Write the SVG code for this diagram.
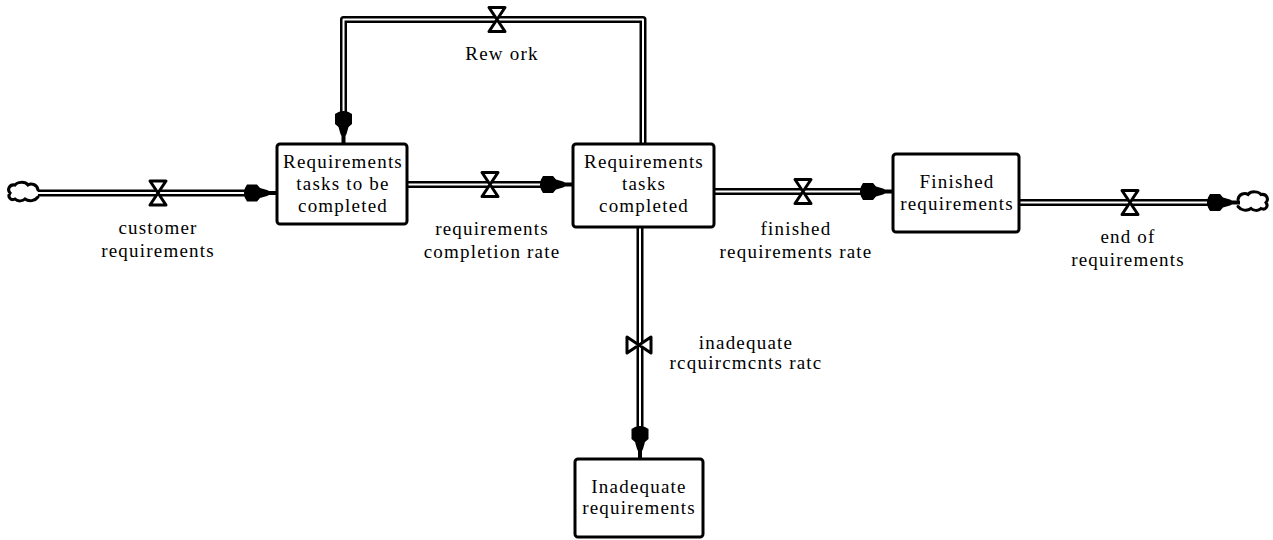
<svg xmlns="http://www.w3.org/2000/svg" width="1273" height="540" viewBox="0 0 1273 540">
<style>
text{font-family:"Liberation Serif","Times New Roman",serif;font-size:19px;letter-spacing:1.2px;fill:#000;text-anchor:middle}
.box{fill:#fff;stroke:#000;stroke-width:3}
.pipeo{fill:none;stroke:#000;stroke-width:7;stroke-linejoin:round}
.pipei{fill:none;stroke:#fff;stroke-width:2;stroke-linejoin:round}
.valve{fill:#fff;stroke:#000;stroke-width:3;stroke-linejoin:round}
.cloud{fill:none;stroke:#000;stroke-width:3;stroke-linecap:round}
</style>
<defs>
<path id="ah" d="M-32,-5 Q-34,0 -32,5 L-30,8.5 L-20,8.5 L-17,5 L-10,3 L-8,2 L0,2 L0,-2 L-8,-2 L-10,-3 L-17,-5 L-20,-8.5 L-30,-8.5 Z" fill="#000"/>
<path id="vl" class="valve" d="M-8,-12 L8,-12 L0,0 Z M-8,12 L8,12 L0,0 Z"/>
<path id="cl" class="cloud" d="M30,-3 C29,-9 23,-10 20,-8 C17,-12 9,-11 7,-8 C1,-9 -1,-3 2,0 C-1,4 3,8 7,6 C10,9 15,8 17,6 C21,9 27,8 30,4"/>
</defs>
<g id="connectors">
<path class="pipeo" d="M38,193 H255"/><path class="pipei" d="M38,193 H255"/>
<path class="pipeo" d="M407,184.5 H548"/><path class="pipei" d="M407,184.5 H548"/>
<path class="pipeo" d="M714,191.5 H868"/><path class="pipei" d="M714,191.5 H868"/>
<path class="pipeo" d="M1019,202.5 H1215"/><path class="pipei" d="M1019,202.5 H1215"/>
<path class="pipeo" d="M643,144 V19.5 H343.5 V122"/><path class="pipei" d="M643,144 V19.5 H343.5 V122"/>
<path class="pipeo" d="M640,227 V437"/><path class="pipei" d="M640,227 V437"/>
<use href="#ah" transform="translate(277,193)"/>
<use href="#ah" transform="translate(573,184.5)"/>
<use href="#ah" transform="translate(893,191.5)"/>
<use href="#ah" transform="translate(1240,202.5)"/>
<use href="#ah" transform="translate(343.5,144) rotate(90)"/>
<use href="#ah" transform="translate(640,459) rotate(90)"/>
<use href="#vl" transform="translate(158,193)"/>
<use href="#vl" transform="translate(490,184.5)"/>
<use href="#vl" transform="translate(803,191.5)"/>
<use href="#vl" transform="translate(1130,202.5)"/>
<use href="#vl" transform="translate(497,19.5)"/>
<use href="#vl" transform="translate(639,345) rotate(90)"/>
<use href="#cl" transform="translate(8,193)"/>
<use href="#cl" transform="translate(1268,202.5) scale(-1,1)"/>
</g>
<g id="label-customer"><text x="158" y="234">customer</text><text x="158" y="257">requirements</text></g>
<g id="label-completion"><text x="492" y="235">requirements</text><text x="492" y="258">completion rate</text></g>
<g id="label-finished-rate"><text x="796" y="235">finished</text><text x="796" y="258">requirements rate</text></g>
<g id="label-end"><text x="1128" y="243">end of</text><text x="1128" y="266">requirements</text></g>
<g id="label-inadequate-rate"><text x="746" y="349">inadequate</text><text x="746" y="369">rcquircmcnts ratc</text></g>
<g id="label-rework"><text x="502" y="60">Rew ork</text></g>
<g id="node-tasks-to-be-completed"><rect class="box" x="277" y="144" width="130" height="80" rx="3"/><text x="343" y="168">Requirements</text><text x="343" y="190">tasks to be</text><text x="343" y="212">completed</text></g>
<g id="node-tasks-completed"><rect class="box" x="573" y="144" width="141" height="83" rx="3"/><text x="644" y="168">Requirements</text><text x="644" y="190">tasks</text><text x="644" y="212">completed</text></g>
<g id="node-finished"><rect class="box" x="893" y="154" width="126" height="78" rx="3"/><text x="957" y="188">Finished</text><text x="957" y="210">requirements</text></g>
<g id="node-inadequate"><rect class="box" x="575" y="459" width="128" height="78" rx="3"/><text x="639" y="493">Inadequate</text><text x="639" y="514">requirements</text></g>
</svg>
